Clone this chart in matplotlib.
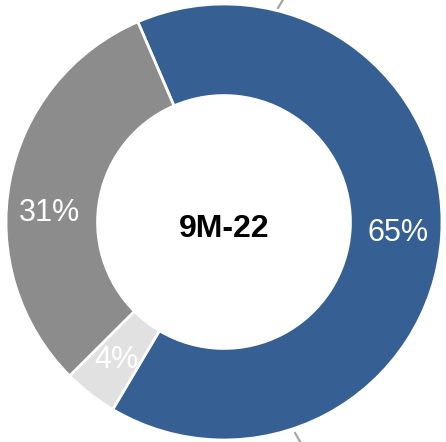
import matplotlib
matplotlib.use('Agg')
import matplotlib.pyplot as plt

plt.rcParams['font.family'] = ['Liberation Sans', 'DejaVu Sans']

# 数据
labels = ['A', 'B', 'C']
values = [65, 4, 31]
colors = ['#365F93', '#E1E1E1', '#8C8C8C']
center_label = '9M-22'

fig = plt.figure(figsize=(4.46, 4.42), dpi=100)
ax = fig.add_axes([0, 0, 1, 1])

wedges, texts, autotexts = ax.pie(
    values, colors=colors, startangle=113.3, counterclock=False,
    radius=1.0, wedgeprops=dict(width=0.42, edgecolor='white', linewidth=2),
    autopct=lambda p: f'{p:.0f}%', pctdistance=0.8,
    textprops=dict(color='white', fontsize=22))

# 31% 标签略微下移
autotexts[2].set_position((-0.8, 0.04))

ax.text(0, -0.03, center_label, ha='center', va='center',
        fontsize=23, fontweight='bold', color='black')

# 图外引线（被裁剪的部分）
ax.plot([0.248, 0.282], [0.982, 1.04], color='#A6A6A6', lw=1.6, zorder=0)
ax.plot([0.326, 0.362], [-0.968, -1.03], color='#A6A6A6', lw=1.6, zorder=0)

ax.set_xlim(-224 / 218, (446 - 224) / 218)
ax.set_ylim(-(442 - 222) / 218, 222 / 218)
ax.set_aspect('auto')
ax.axis('off')

plt.savefig('out.png', dpi=100)
plt.close()
